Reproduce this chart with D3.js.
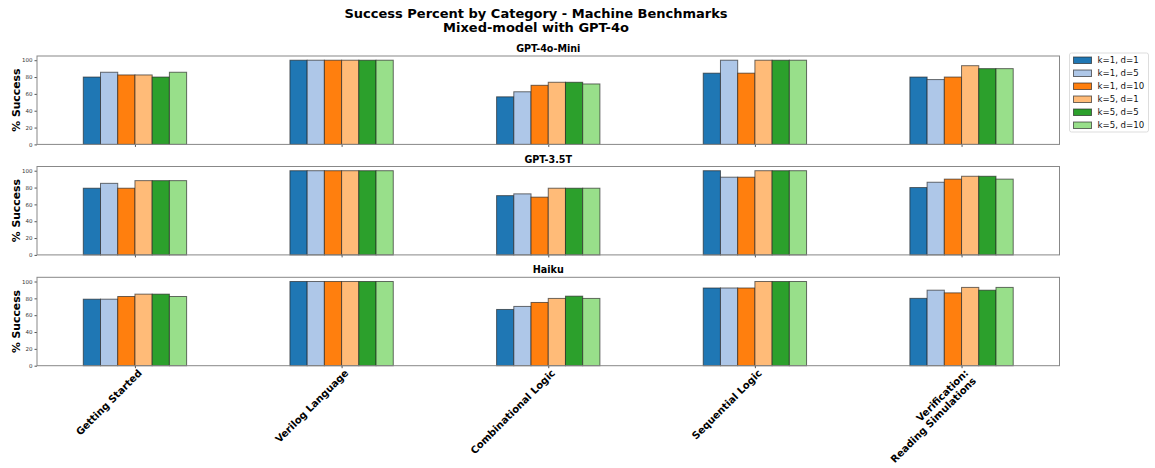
<!DOCTYPE html>
<html><head><meta charset="utf-8">
<script src="https://cdn.jsdelivr.net/npm/d3@7"></script>
<style>body{margin:0;background:#fff}svg{display:block;font-family:"DejaVu Sans",sans-serif}</style>
</head><body><svg id="c" width="1155" height="468"></svg>
<script>
const categories = ["Getting Started", "Verilog Language", "Combinational Logic", "Sequential Logic", "Verification:\nReading Simulations"];
const seriesNames = ["k=1, d=1", "k=1, d=5", "k=1, d=10", "k=5, d=1", "k=5, d=5", "k=5, d=10"];
const seriesColors = ["#1f77b4", "#aec7e8", "#ff7f0e", "#ffbb78", "#2ca02c", "#98df8a"];
const panelTitles = ["GPT-4o-Mini", "GPT-3.5T", "Haiku"];
// values[series][category]
const gpt4oMini = [
  [80, 100, 56.5, 84.6, 80],
  [85.7, 100, 62.5, 100, 77],
  [82.5, 100, 70.2, 84.6, 80],
  [82.5, 100, 73.8, 100, 93.5],
  [80, 100, 73.8, 100, 90],
  [85.7, 100, 71.8, 100, 90]
];
const gpt35t = [
  [79.2, 100, 70.4, 100, 80],
  [85, 100, 72.5, 92.3, 86.3],
  [79.2, 100, 68.6, 92.3, 90],
  [88.2, 100, 79.2, 100, 93.4],
  [88.2, 100, 79.2, 100, 93.4],
  [88.2, 100, 79.2, 100, 90]
];
const haiku = [
  [79, 100, 66.8, 92.3, 80],
  [79, 100, 70.4, 92.3, 89.7],
  [82.2, 100, 75.1, 92.3, 86.5],
  [85, 100, 79.9, 100, 93],
  [85, 100, 82.6, 100, 89.7],
  [82.2, 100, 79.9, 100, 93]
];
const yTicks = [0, 20, 40, 60, 80, 100];
const panelData = [gpt4oMini, gpt35t, haiku];

const svg = d3.select("#c");
const left = 37, right = 1059.5;
const panelTops = [56, 166.5, 277.3];
const panelH = 88.4;

const x = d3.scalePoint().domain(categories).range([left, right]).padding(0.474);
const groupW = x.step() * 0.5;
const xs = d3.scaleBand().domain(seriesNames).range([-groupW / 2, groupW / 2]);

// title
svg.append("text").attr("x", 536).attr("y", 17.5).attr("text-anchor", "middle")
  .attr("font-size", 13).attr("font-weight", "bold").text("Success Percent by Category - Machine Benchmarks");
svg.append("text").attr("x", 536).attr("y", 32).attr("text-anchor", "middle")
  .attr("font-size", 13).attr("font-weight", "bold").text("Mixed-model with GPT-4o");

panelData.forEach((data, p) => {
  const top = panelTops[p];
  const y = d3.scaleLinear().domain([0, 105]).range([top + panelH, top]);
  const g = svg.append("g");
  // subplot title
  g.append("text").attr("x", (left + right) / 2).attr("y", top - 4).attr("text-anchor", "middle")
    .attr("font-size", 9.6).attr("font-weight", "bold").text(panelTitles[p]);
  // bars
  seriesNames.forEach((s, si) => {
    g.selectAll(null).data(categories).enter().append("rect")
      .attr("x", c => x(c) + xs(s))
      .attr("width", xs.bandwidth())
      .attr("y", (c, ci) => y(data[si][ci]))
      .attr("height", (c, ci) => y(0) - y(data[si][ci]))
      .attr("fill", seriesColors[si])
      .attr("stroke", "#222").attr("stroke-opacity", 0.65).attr("stroke-width", 1);
  });
  // y axis
  const ya = g.append("g").attr("transform", `translate(${left},0)`)
    .call(d3.axisLeft(y).tickValues(yTicks).tickSize(2.5).tickPadding(2));
  ya.select(".domain").remove();
  ya.selectAll("text").attr("font-size", 5.5).attr("fill", "#333").attr("font-family", "DejaVu Sans");
  ya.selectAll("line").attr("stroke", "#555");
  // x axis ticks
  const xa = g.append("g").attr("transform", `translate(0,${top + panelH})`)
    .call(d3.axisBottom(x).tickSize(2.5).tickFormat(""));
  xa.select(".domain").remove();
  xa.selectAll("line").attr("stroke", "#555");
  // frame
  g.append("rect").attr("x", left).attr("y", top).attr("width", right - left).attr("height", panelH)
    .attr("fill", "none").attr("stroke", "#888").attr("stroke-width", 1);
  // y label
  g.append("text").attr("transform", `translate(19.5,${top + panelH / 2}) rotate(-90)`)
    .attr("text-anchor", "middle").attr("font-size", 10.8).attr("font-weight", "bold").text("% Success");
  // x labels on bottom panel
  if (p === panelData.length - 1) {
    categories.forEach(c => {
      const lines = c.split("\n");
      const t = svg.append("text")
        .attr("transform", `translate(${x(c) + 7.5},${top + panelH + 8}) rotate(-45)`)
        .attr("text-anchor", "end").attr("font-size", 10).attr("font-weight", "bold");
      lines.forEach((ln, li) => {
        t.append("tspan").attr("x", 0).attr("dy", li === 0 ? 0 : 11).text(ln);
      });
    });
  }
});

// legend
const lg = svg.append("g");
lg.append("rect").attr("x", 1069.5).attr("y", 53).attr("width", 79).attr("height", 79)
  .attr("fill", "#fff").attr("stroke", "#ddd").attr("rx", 2);
seriesNames.forEach((s, i) => {
  const yy = 60 + i * 13;
  lg.append("rect").attr("x", 1073.5).attr("y", yy - 3).attr("width", 18).attr("height", 6.5)
    .attr("fill", seriesColors[i]).attr("stroke", "#222").attr("stroke-opacity", 0.65).attr("stroke-width", 1);
  lg.append("text").attr("x", 1097.5).attr("y", yy + 3.2).attr("font-size", 8.6).attr("fill", "#111").text(s);
});
</script></body></html>
